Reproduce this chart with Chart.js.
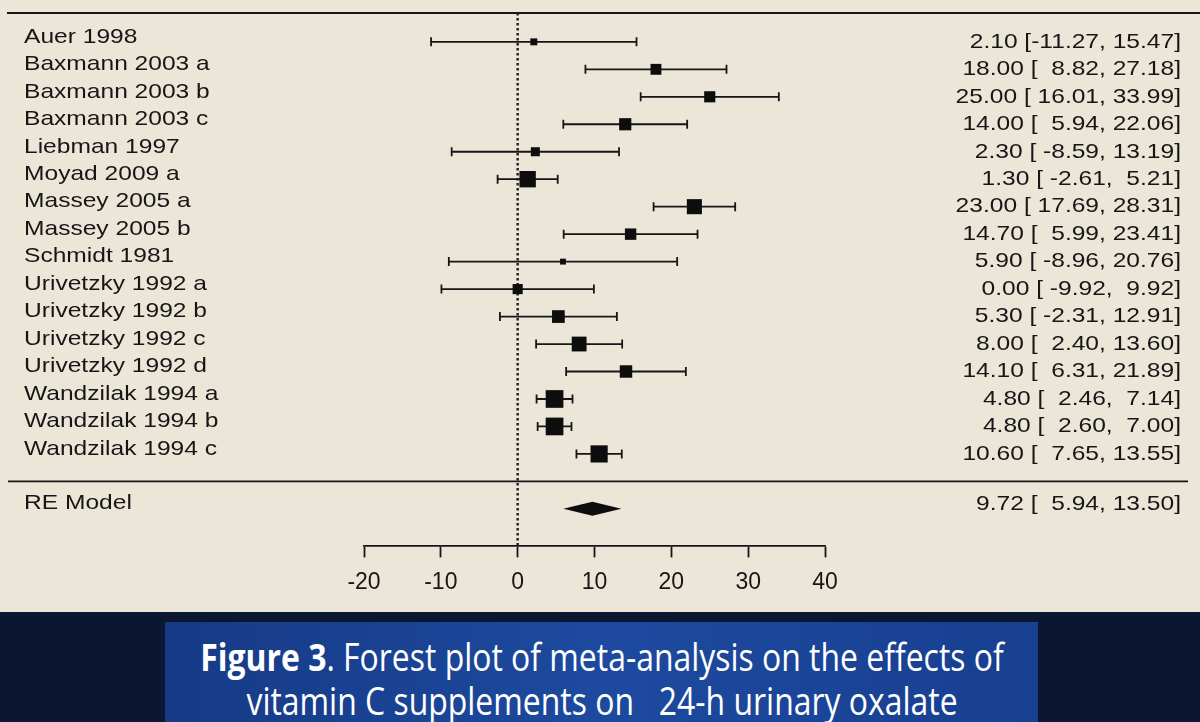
<!DOCTYPE html>
<html>
<head>
<meta charset="utf-8">
<script src="https://cdn.jsdelivr.net/npm/chart.js@4.4.1/dist/chart.umd.min.js"></script>
<style>
  html, body { margin: 0; padding: 0; }
  body { width: 1200px; height: 722px; overflow: hidden; background: #0b1631; }
  #plot { position: absolute; left: 0; top: 0; width: 1200px; height: 612px; background: #ebe6d8; }
  #caption {
    position: absolute; left: 165px; top: 622px; width: 873px; height: 100px;
    background: linear-gradient(to right, #163a86, #1d4a9f 50%, #183f90);
    overflow: hidden;
  }
  #caption div {
    position: absolute; left: 50%; top: 12px; width: 1100px; margin-left: -550px;
    color: #fff; text-align: center; white-space: pre;
    font-family: "Open Sans", sans-serif; font-size: 38px; line-height: 44px;
    transform: scaleX(0.84); transform-origin: center top;
  }
</style>
</head>
<body>
<div id="plot"><canvas id="forest_Chart"></canvas></div>
<div id="caption"><div><b>Figure 3</b>. Forest plot of meta-analysis on the effects of
vitamin C supplements on   24-h urinary oxalate</div></div>
<script>
const studies = ['Auer 1998', 'Baxmann 2003 a', 'Baxmann 2003 b', 'Baxmann 2003 c', 'Liebman 1997',
    'Moyad 2009 a', 'Massey 2005 a', 'Massey 2005 b', 'Schmidt 1981', 'Urivetzky 1992 a',
    'Urivetzky 1992 b', 'Urivetzky 1992 c', 'Urivetzky 1992 d', 'Wandzilak 1994 a',
    'Wandzilak 1994 b', 'Wandzilak 1994 c'];
const estimates = [2.10, 18.00, 25.00, 14.00, 2.30, 1.30, 23.00, 14.70, 5.90, 0.00, 5.30, 8.00, 14.10, 4.80, 4.80, 10.60];
const lower = [-11.27, 8.82, 16.01, 5.94, -8.59, -2.61, 17.69, 5.99, -8.96, -9.92, -2.31, 2.40, 6.31, 2.46, 2.60, 7.65];
const upper = [15.47, 27.18, 33.99, 22.06, 13.19, 5.21, 28.31, 23.41, 20.76, 9.92, 12.91, 13.60, 21.89, 7.14, 7.00, 13.55];
// estimated study weights (%), only used for box size
const weights = [4.1, 5.6, 5.7, 6.1, 4.9, 7.7, 7.2, 5.8, 3.7, 5.3, 6.3, 7.1, 6.2, 8.2, 8.2, 8.0];
const modelLabel = 'RE Model';
const modelValues = [9.72, 5.94, 13.50]; // estimate, lower, upper
const xTicks = [-20, -10, 0, 10, 20, 30, 40];

const modelRow = studies.length + 1;
const FONT = '"Liberation Sans", Arial, sans-serif';
const INK = '#161616';
const STRETCH = 1.17; // the photo is a bit wider than the plot

// pad ci bounds like metafor does
const fmt = v => v.toFixed(2);
const loW = Math.max(...lower.concat(modelValues[1]).map(v => fmt(v).length));
const hiW = Math.max(...upper.concat(modelValues[2]).map(v => fmt(v).length));
const ciText = (e, lo, hi) => `${fmt(e)} [${fmt(lo).padStart(loW)}, ${fmt(hi).padStart(hiW)}]`;

const wMin = Math.min(...weights), wMax = Math.max(...weights);
const boxSide = w => 11.8 * (0.5 + (w - wMin) / (wMax - wMin));

function wideText(ctx, text, x, y, align) {
    ctx.save();
    ctx.translate(x, y);
    ctx.scale(STRETCH, 1);
    ctx.textAlign = align;
    ctx.fillText(text, 0, 0);
    ctx.restore();
}

const forestPlugin = {
    id: 'forest',
    beforeDatasetsDraw(chart) {
        const { ctx, chartArea, scales: { x, y } } = chart;
        ctx.save();
        ctx.strokeStyle = INK;

        // rules
        ctx.lineWidth = 1.8;
        ctx.beginPath();
        ctx.moveTo(7, chartArea.top); ctx.lineTo(1200, chartArea.top);
        const sepY = y.getPixelForValue(studies.length);
        ctx.moveTo(8, sepY); ctx.lineTo(1188, sepY);
        ctx.stroke();

        // reference line at 0
        const x0 = x.getPixelForValue(0);
        ctx.lineWidth = 2.5;
        ctx.strokeStyle = '#262626';
        ctx.setLineDash([2.5, 2.5]);
        ctx.beginPath();
        ctx.moveTo(x0, chartArea.top); ctx.lineTo(x0, chartArea.bottom);
        ctx.stroke();
        ctx.setLineDash([]);

        // confidence intervals
        ctx.strokeStyle = INK;
        ctx.lineWidth = 1.8;
        lower.forEach((lo, i) => {
            const py = y.getPixelForValue(i);
            const x1 = x.getPixelForValue(lo), x2 = x.getPixelForValue(upper[i]);
            ctx.beginPath();
            ctx.moveTo(x1, py); ctx.lineTo(x2, py);
            ctx.moveTo(x1, py - 4.5); ctx.lineTo(x1, py + 4.5);
            ctx.moveTo(x2, py - 4.5); ctx.lineTo(x2, py + 4.5);
            ctx.stroke();
        });

        // summary diamond
        const my = y.getPixelForValue(modelRow);
        ctx.fillStyle = '#0d0d0d';
        ctx.beginPath();
        ctx.moveTo(x.getPixelForValue(modelValues[1]), my);
        ctx.lineTo(x.getPixelForValue(modelValues[0]), my - 7);
        ctx.lineTo(x.getPixelForValue(modelValues[2]), my);
        ctx.lineTo(x.getPixelForValue(modelValues[0]), my + 7);
        ctx.closePath();
        ctx.fill();
        ctx.restore();
    },
    afterDatasetsDraw(chart) {
        const { ctx, scales: { y } } = chart;
        ctx.save();
        ctx.fillStyle = INK;
        ctx.textBaseline = 'middle';
        ctx.font = `21px ${FONT}`;
        studies.forEach((s, i) => {
            const py = y.getPixelForValue(i);
            wideText(ctx, s, 24, py - 5, 'left');
            wideText(ctx, ciText(estimates[i], lower[i], upper[i]), 1181, py, 'right');
        });
        const my = y.getPixelForValue(modelRow);
        wideText(ctx, modelLabel, 24, my - 6, 'left');
        wideText(ctx, ciText(...modelValues), 1181, my - 5, 'right');
        ctx.restore();
    }
};

const ctx = document.getElementById('forest_Chart').getContext('2d');

const data = {
    datasets: [{
        data: estimates.map((e, i) => ({ x: e, y: i })),
        pointStyle: 'rect',
        pointRadius: c => boxSide(weights[c.dataIndex]) / Math.SQRT2,
        pointHoverRadius: c => boxSide(weights[c.dataIndex]) / Math.SQRT2,
        pointBorderWidth: 0,
        backgroundColor: '#0d0d0d',
        showLine: false,
        clip: false
    }]
};

const config = {
    type: 'scatter',
    data: data,
    plugins: [forestPlugin],
    options: {
        responsive: true,
        maintainAspectRatio: false,
        animation: false,
        events: [],
        layout: { padding: { left: 364, right: 375, top: 13, bottom: 5 } },
        plugins: {
            legend: { display: false },
            tooltip: { enabled: false }
        },
        scales: {
            x: {
                type: 'linear',
                min: xTicks[0],
                max: xTicks[xTicks.length - 1],
                afterBuildTicks: axis => { axis.ticks = xTicks.map(v => ({ value: v })); },
                ticks: { color: INK, font: { family: FONT, size: 23 }, padding: 11 },
                grid: { drawOnChartArea: false, drawTicks: true, tickLength: 12, tickColor: INK, tickWidth: 1.8 },
                border: { display: true, color: INK, width: 1.8 }
            },
            y: {
                display: false,
                reverse: true,
                min: -1.05,
                max: 18.33
            }
        }
    }
};

const forestChart = new Chart(ctx, config);
</script>
</body>
</html>
